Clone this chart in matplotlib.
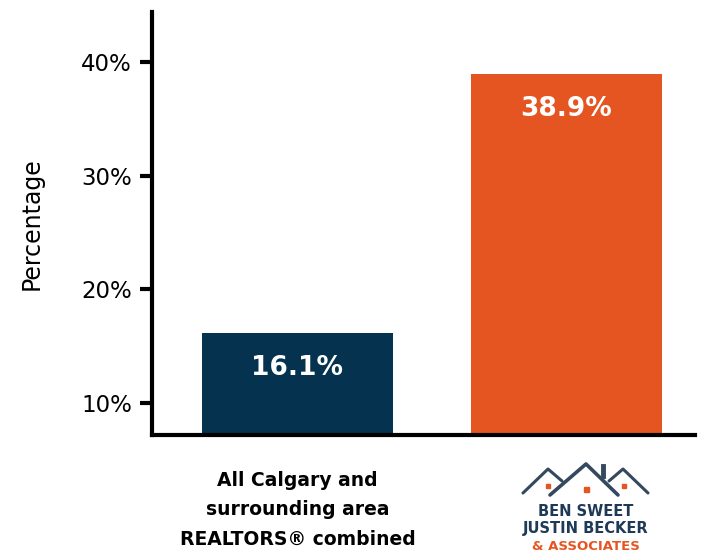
import matplotlib.pyplot as plt
from matplotlib.ticker import FuncFormatter

plt.rcParams['font.family'] = ['DejaVu Sans']

groups = ['All Calgary and\nsurrounding area\nREALTORS® combined', '']
values = [16.1, 38.9]
bar_labels = ['16.1%', '38.9%']
colors = ['#05324F', '#E55521']
yticks = [10, 20, 30, 40]

fig = plt.figure(figsize=(7.01, 5.54), dpi=100)
ax = fig.add_axes([152/701, 1 - 435/554, 543/701, 423/554])

x = range(len(values))
bars = ax.bar(x, values, width=0.71, color=colors, bottom=0)
for b, lab in zip(bars, bar_labels):
    ax.annotate(lab, (b.get_x() + b.get_width()/2, b.get_height()),
                xytext=(0, -25), textcoords='offset points',
                ha='center', va='center', color='white',
                fontsize=19, fontweight='bold')

ax.set_xlim(-0.541, 1.478)
ax.set_ylim(7.15, 44.4)
ax.set_yticks(yticks)
ax.yaxis.set_major_formatter(FuncFormatter(lambda v, p: '%d%%' % v))
ax.set_xticks(list(x))
ax.set_xticklabels(groups, fontsize=13.5, fontweight='bold', linespacing=1.68)
ax.tick_params(axis='x', length=0, pad=26)
ax.tick_params(axis='y', length=8.5, width=3, labelsize=16.5, pad=6, colors='black')
ax.set_ylabel('Percentage', fontsize=17, labelpad=27)

for s in ['top', 'right']:
    ax.spines[s].set_visible(False)
for s in ['left', 'bottom']:
    ax.spines[s].set_linewidth(3)

# logo under the second bar
lg = fig.add_axes([500/701, 0, 170/701, 100/554])
lg.set_xlim(500, 670)
lg.set_ylim(554, 454)
lg.axis('off')
roof = '#34485E'
lg.plot([523, 548, 562], [493, 469, 481], color=roof, lw=2.2, solid_capstyle='round')
lg.plot([609, 623, 648], [481, 469, 493], color=roof, lw=2.2, solid_capstyle='round')
lg.plot([550, 586, 618], [495, 464, 495], color=roof, lw=2.6, solid_capstyle='round')
lg.plot([603, 603], [466, 476], color=roof, lw=3.5)
for wx, wy, ws in [(548, 486, 4), (586, 489, 5), (624, 486, 4)]:
    lg.add_patch(plt.Rectangle((wx - ws/2, wy - ws/2), ws, ws, color='#E55521'))
lg.text(586, 512, 'BEN SWEET', ha='center', va='center', color='#1E3A56',
        fontsize=10.5, fontweight='bold')
lg.text(586, 529, 'JUSTIN BECKER', ha='center', va='center', color='#1E3A56',
        fontsize=10.5, fontweight='bold')
lg.text(586, 547, '& ASSOCIATES', ha='center', va='center', color='#E55521',
        fontsize=9.5, fontweight='bold')

fig.savefig('out.png', dpi=100)
